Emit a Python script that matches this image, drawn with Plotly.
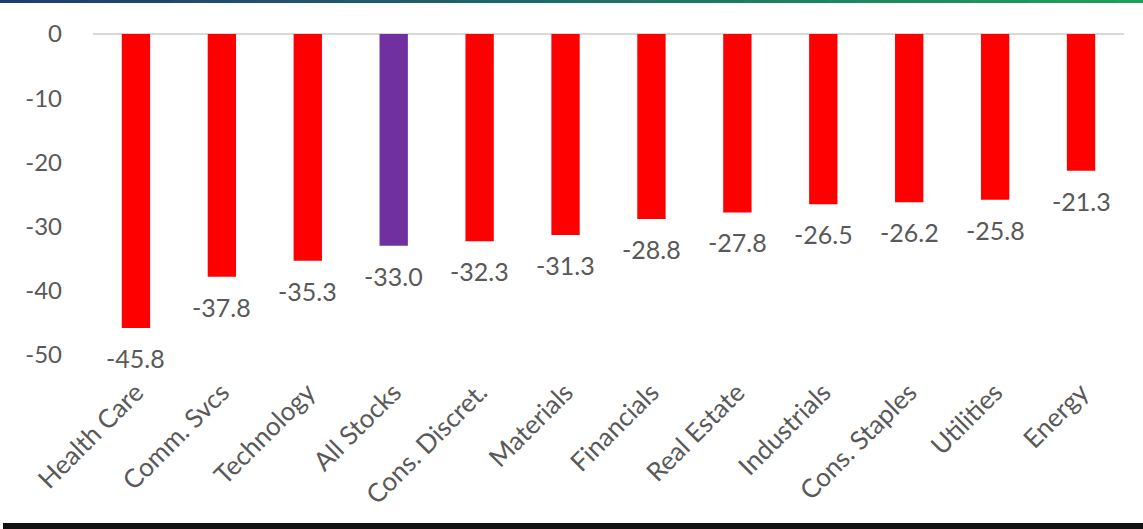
import plotly.graph_objects as go

categories = ["Health Care", "Comm. Svcs", "Technology", "All Stocks", "Cons. Discret.",
              "Materials", "Financials", "Real Estate", "Industrials", "Cons. Staples",
              "Utilities", "Energy"]
values = [-45.8, -37.8, -35.3, -33.0, -32.3, -31.3, -28.8, -27.8, -26.5, -26.2, -25.8, -21.3]
highlight = "All Stocks"
y_ticks = [0, -10, -20, -30, -40, -50]

RED = "#FF0000"
PURPLE = "#7030A0"
GREY = "#595959"
FONT = "Lato"

colors = [PURPLE if c == highlight else RED for c in categories]

fig = go.Figure()
fig.add_trace(go.Bar(x=categories, y=values, marker=dict(color=colors, line=dict(width=0)),
                     width=0.33, hoverinfo="skip"))

annotations = []
for c, v in zip(categories, values):
    annotations.append(dict(x=c, y=v, xref="x", yref="y", text=f"{v:.1f}", showarrow=False,
                            yanchor="middle", xanchor="center", yshift=-30,
                            font=dict(family=FONT, size=25, color=GREY)))

# decorative frame: gradient top rule and black bottom rule
PW, PH, L, T = 1031, 321, 93, 34
shapes = []
n = 40
c0 = (0x1F, 0x3B, 0x73)
c1 = (0x1E, 0xA0, 0x5A)
for i in range(n):
    t = i / (n - 1)
    col = "rgb(%d,%d,%d)" % tuple(int(a + (b - a) * t) for a, b in zip(c0, c1))
    shapes.append(dict(type="rect", xref="paper", yref="paper",
                       x0=(-L + i * 1143 / n) / PW, x1=(-L + (i + 1) * 1143 / n + 1) / PW,
                       y0=1 + (T - 3) / PH, y1=1 + (T + 1) / PH,
                       fillcolor=col, line=dict(width=0), layer="above"))
shapes.append(dict(type="rect", xref="paper", yref="paper", x0=(3 - L) / PW, x1=(1143 - L) / PW,
                   y0=-(523 - T - PH) / PH, y1=-(530 - T - PH) / PH,
                   fillcolor="#111111", line=dict(width=0)))

fig.update_layout(
    width=1143, height=529,
    margin=dict(l=L, r=19, t=T, b=529 - T - PH),
    plot_bgcolor="white", paper_bgcolor="white",
    showlegend=False,
    bargap=0.67,
    annotations=annotations,
    shapes=shapes,
    xaxis=dict(showgrid=False, showline=False, ticks="", tickangle=-45,
               tickfont=dict(family=FONT, size=26, color=GREY), ticklabelstandoff=16),
    yaxis=dict(range=[-50, 0], tickvals=y_ticks, ticktext=[str(t) for t in y_ticks],
               showgrid=False, zeroline=True, zerolinecolor="#D9D9D9", zerolinewidth=1.5,
               showline=False, ticks="", tickfont=dict(family=FONT, size=24, color=GREY),
               ticklabelstandoff=30),
)

fig.write_html("out.html")
